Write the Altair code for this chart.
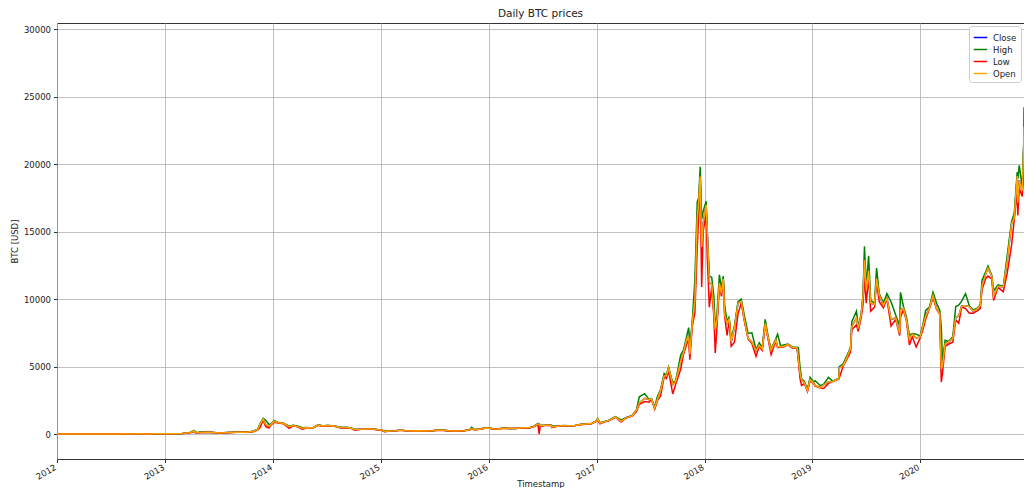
import altair as alt
import pandas as pd

dates = [
    "2012-01-01", "2012-02-01", "2012-03-01", "2012-04-01", "2012-05-01", "2012-06-01", "2012-07-01",
    "2012-08-01", "2012-08-17", "2012-09-01", "2012-10-01", "2012-11-01", "2012-12-01",
    "2013-01-01", "2013-02-01", "2013-03-01", "2013-03-25", "2013-04-09", "2013-04-16", "2013-05-01",
    "2013-06-01", "2013-07-05", "2013-08-01", "2013-09-01", "2013-10-01", "2013-10-25", "2013-11-10",
    "2013-11-18", "2013-11-29", "2013-12-07", "2013-12-18", "2013-12-25",
    "2014-01-05", "2014-01-20", "2014-02-05", "2014-02-25", "2014-03-10", "2014-03-25", "2014-04-10",
    "2014-04-25", "2014-05-15", "2014-06-03", "2014-06-20", "2014-07-05", "2014-07-25", "2014-08-18",
    "2014-09-10", "2014-09-25", "2014-10-05", "2014-10-25", "2014-11-15", "2014-12-01", "2014-12-20",
    "2015-01-05", "2015-01-14", "2015-02-01", "2015-02-20", "2015-03-10", "2015-03-25", "2015-04-15",
    "2015-05-10", "2015-06-01", "2015-06-25", "2015-07-10", "2015-07-30", "2015-08-20", "2015-09-15",
    "2015-10-10", "2015-10-30", "2015-11-04", "2015-11-15", "2015-12-01", "2015-12-20",
    "2016-01-05", "2016-01-16", "2016-02-01", "2016-02-20", "2016-03-10", "2016-04-01", "2016-04-25",
    "2016-05-15", "2016-05-31", "2016-06-16", "2016-06-20", "2016-06-23", "2016-07-10", "2016-07-30",
    "2016-08-02", "2016-08-20", "2016-09-10", "2016-09-30", "2016-10-20", "2016-11-05", "2016-11-25",
    "2016-12-15", "2016-12-30",
    "2017-01-04", "2017-01-12", "2017-01-25", "2017-02-10", "2017-02-25", "2017-03-05", "2017-03-24",
    "2017-04-10", "2017-04-30", "2017-05-15", "2017-05-25", "2017-06-12", "2017-06-27", "2017-07-05",
    "2017-07-16", "2017-07-25", "2017-08-05", "2017-08-17", "2017-08-25", "2017-09-01", "2017-09-15",
    "2017-09-25", "2017-10-12", "2017-10-21", "2017-11-02", "2017-11-08", "2017-11-12", "2017-11-20",
    "2017-11-29", "2017-12-07", "2017-12-12", "2017-12-17", "2017-12-22", "2017-12-27",
    "2018-01-06", "2018-01-10", "2018-01-17", "2018-01-25", "2018-02-01", "2018-02-06", "2018-02-12",
    "2018-02-20", "2018-02-27", "2018-03-05", "2018-03-10", "2018-03-18", "2018-03-25", "2018-04-01",
    "2018-04-12", "2018-04-24", "2018-05-05", "2018-05-15", "2018-05-28", "2018-06-10", "2018-06-24",
    "2018-07-05", "2018-07-15", "2018-07-25", "2018-08-05", "2018-08-14", "2018-08-30", "2018-09-05",
    "2018-09-15", "2018-09-25", "2018-10-10", "2018-10-25", "2018-11-10", "2018-11-14", "2018-11-20",
    "2018-11-25", "2018-12-05", "2018-12-15", "2018-12-24",
    "2019-01-05", "2019-01-10", "2019-01-28", "2019-02-08", "2019-02-24", "2019-03-10", "2019-03-31",
    "2019-04-02", "2019-04-15", "2019-04-23", "2019-05-10", "2019-05-14", "2019-05-30", "2019-06-05",
    "2019-06-15", "2019-06-21", "2019-06-26", "2019-07-02", "2019-07-10", "2019-07-17", "2019-07-30",
    "2019-08-06", "2019-08-15", "2019-08-29", "2019-09-10", "2019-09-24", "2019-10-10", "2019-10-23",
    "2019-10-26", "2019-11-05", "2019-11-15", "2019-11-25", "2019-12-05", "2019-12-18", "2019-12-31",
    "2020-01-10", "2020-01-19", "2020-02-01", "2020-02-13", "2020-02-25", "2020-03-07", "2020-03-12",
    "2020-03-16", "2020-03-25", "2020-04-05", "2020-04-20", "2020-04-30", "2020-05-10", "2020-05-20",
    "2020-06-02", "2020-06-15", "2020-06-28", "2020-07-10", "2020-07-22", "2020-07-28", "2020-08-10",
    "2020-08-17", "2020-08-30", "2020-09-05", "2020-09-20", "2020-10-08", "2020-10-21", "2020-11-05",
    "2020-11-14", "2020-11-24", "2020-11-26", "2020-12-01", "2020-12-11", "2020-12-16", "2020-12-17",
]

open_ = [
    4.9, 5.6, 5.0, 5.0, 5.1, 5.3, 6.7, 9.4, 11.6, 10.2, 12.4, 10.9, 12.6,
    13.4, 20.4, 34.4, 90, 229, 81, 116, 128, 75, 105, 140, 132, 181, 329, 702, 1118, 702, 592, 699,
    948, 831, 791, 542, 629, 561, 421, 459, 451, 661, 591, 629, 596, 481, 479, 411, 331, 349, 381, 379, 326,
    276, 181, 221, 241, 291, 248, 223, 240, 225, 242, 284, 288, 234, 231, 245, 324, 402, 321, 359, 439,
    433, 386, 373, 436, 416, 416, 464, 456, 531, 748, 736, 622, 651, 654, 522, 574, 621, 607, 631, 701, 741,
    777, 958,
    1128, 802, 902, 998, 1178, 1268, 945, 1200, 1345, 1745, 2310, 2660, 2545, 2595, 1930, 2540, 3240,
    4290, 4340, 4890, 3670, 3890, 5390, 5990, 7090, 7160, 5920, 8190, 9890, 15950, 17180, 19080, 13850, 15580,
    16980, 14920, 11230, 11090, 9120, 7720, 8490, 11180, 10410, 11490, 8820, 8190, 8510, 6810, 7890, 9690,
    9840, 8510, 7110, 6810, 6160, 6590, 6310, 8190, 7010, 6210, 6990, 6460, 6490, 6510, 6620, 6410, 6390,
    5660, 4510, 4010, 3790, 3210, 4040,
    3790, 3610, 3440, 3640, 3860, 3890, 4090, 4880, 5090, 5440, 6340, 7930, 8590, 7810, 8840, 10180, 12880,
    10620, 12090, 9720, 9590, 11490, 10310, 9510, 10090, 8520, 8590, 7460, 9230, 9310, 8490, 7010, 7390,
    7110, 7190,
    7990, 8710, 9340, 10240, 9310, 8890, 4880, 5010, 6690, 6810, 7090, 8640, 8760, 9490, 9510, 9440, 9110,
    9240, 9510, 10980, 11890, 12290, 11710, 10210, 10940, 10910, 12780, 15580, 16010, 19120, 17130, 18780,
    18010, 21270, 22780,
]

high = [
    5.0, 6.2, 5.3, 5.1, 5.2, 5.5, 6.9, 9.6, 15.4, 10.4, 12.6, 11.0, 12.7,
    13.5, 21.0, 34.9, 95, 266, 120, 141, 130, 82, 106, 145, 133, 200, 340, 750, 1163, 1020, 720, 720,
    1010, 840, 810, 580, 650, 590, 460, 480, 455, 690, 605, 640, 605, 500, 485, 425, 340, 360, 400, 385, 330,
    280, 225, 228, 247, 300, 252, 224, 245, 230, 245, 295, 291, 240, 232, 247, 335, 495, 335, 375, 445,
    435, 390, 380, 440, 418, 418, 467, 457, 545, 775, 760, 640, 655, 660, 610, 580, 625, 610, 635, 705, 745,
    780, 975,
    1150, 830, 905, 1005, 1190, 1290, 1040, 1210, 1360, 1760, 2760, 2990, 2560, 2620, 2010, 2770, 3300,
    4480, 4370, 4950, 3800, 3930, 5850, 6200, 7300, 7880, 6500, 8280, 11400, 17200, 17500, 19800, 15900, 16500,
    17250, 14900, 11700, 11600, 10250, 7900, 8900, 11800, 10800, 11700, 9500, 8300, 8700, 7000, 8000, 9800,
    9990, 8850, 7450, 7500, 6250, 6750, 6400, 8500, 7100, 6300, 7050, 7400, 6550, 6600, 6670, 6450, 6430,
    6400, 4950, 4100, 3900, 3300, 4200,
    3850, 3950, 3580, 3700, 4200, 3920, 4120, 5000, 5200, 5600, 6400, 8300, 9100, 7900, 8900, 10200, 13900,
    10900, 13200, 9900, 9700, 12300, 10400, 9700, 10400, 9800, 8800, 8050, 10500, 9450, 8700, 7300, 7450,
    7400, 7250,
    8100, 9150, 9400, 10500, 9700, 9150, 7950, 5400, 6950, 6850, 7200, 9450, 9550, 9850, 10400, 9500, 9200,
    9300, 9550, 11400, 12050, 12450, 11750, 10600, 11050, 10950, 13200, 15750, 16350, 19400, 18900, 19900,
    18300, 21500, 24200,
]

low = [
    4.5, 5.5, 4.8, 4.8, 4.9, 5.2, 6.4, 9.0, 8.0, 9.9, 12.2, 10.6, 12.4,
    13.2, 19.8, 33.0, 70, 180, 60, 105, 124, 66, 102, 136, 127, 175, 290, 480, 1020, 570, 450, 660,
    880, 810, 770, 420, 610, 540, 360, 440, 440, 640, 585, 620, 590, 450, 470, 400, 280, 345, 375, 370, 315,
    265, 170, 215, 238, 280, 244, 218, 238, 222, 240, 265, 284, 226, 228, 243, 310, 390, 310, 350, 430,
    425, 360, 370, 428, 410, 414, 460, 453, 520, 700, 5, 550, 640, 645, 480, 570, 615, 600, 627, 695, 730,
    770, 930,
    1020, 750, 880, 975, 1140, 1250, 890, 1190, 1320, 1650, 2200, 2400, 2350, 2570, 1840, 2450, 2830,
    4250, 4120, 4680, 2970, 3680, 4800, 5850, 6700, 7000, 5500, 7950, 9000, 13800, 16300, 18800, 10900, 15000,
    16300, 13100, 9400, 10900, 8800, 6000, 8000, 11000, 10200, 11400, 8700, 7300, 8400, 6500, 6800, 8900,
    9700, 8450, 7050, 6700, 5750, 6500, 6200, 8100, 6900, 5880, 6900, 6400, 6450, 6450, 6600, 6380, 6370,
    5500, 4100, 3600, 3750, 3150, 3950,
    3750, 3550, 3400, 3380, 3750, 3880, 4080, 4150, 5050, 5350, 6100, 7700, 8100, 7600, 8650, 9550, 11700,
    9700, 11600, 9100, 9400, 11300, 9800, 9350, 10000, 8000, 8500, 7300, 8650, 9200, 8400, 6600, 7200,
    6450, 7100,
    7750, 8500, 9300, 10100, 9250, 8850, 3850, 4450, 6500, 6650, 6800, 8450, 8200, 9400, 9300, 8950, 8950,
    9100, 9300, 10700, 11550, 11700, 11500, 9900, 10850, 10550, 11900, 14000, 15900, 18100, 16200, 18200,
    17600, 19300, 21200,
]

close = [
    4.9, 5.6, 5.0, 5.0, 5.1, 5.3, 6.7, 9.4, 11.5, 10.2, 12.4, 10.9, 12.6,
    13.4, 20.4, 34.5, 90, 230, 80, 116, 128, 75, 105, 140, 132, 180, 330, 700, 1120, 700, 590, 700,
    950, 830, 790, 540, 630, 560, 420, 460, 450, 660, 590, 630, 595, 480, 480, 410, 330, 350, 380, 380, 325,
    275, 180, 220, 242, 292, 247, 222, 241, 224, 243, 285, 287, 233, 230, 246, 325, 400, 320, 360, 440,
    432, 385, 372, 437, 415, 417, 465, 455, 533, 750, 735, 620, 650, 655, 520, 575, 620, 608, 630, 702, 740,
    778, 960,
    1130, 800, 900, 1000, 1180, 1270, 940, 1205, 1350, 1750, 2300, 2650, 2550, 2600, 1920, 2550, 3250,
    4300, 4350, 4900, 3650, 3900, 5400, 6000, 7100, 7150, 5900, 8200, 9900, 16000, 17200, 19100, 13800, 15600,
    17000, 14900, 11200, 11100, 9100, 7700, 8500, 11200, 10400, 11500, 8800, 8200, 8500, 6800, 7900, 9700,
    9850, 8500, 7100, 6800, 6150, 6600, 6300, 8200, 7000, 6200, 7000, 6450, 6500, 6500, 6630, 6400, 6400,
    5650, 4500, 4000, 3800, 3200, 4050,
    3800, 3600, 3450, 3650, 3850, 3900, 4100, 4900, 5100, 5450, 6350, 7950, 8600, 7800, 8850, 10200, 12900,
    10600, 12100, 9700, 9600, 11500, 10300, 9500, 10100, 8500, 8600, 7450, 9250, 9300, 8500, 7000, 7400,
    7100, 7200,
    8000, 8700, 9350, 10250, 9300, 8900, 4850, 5000, 6700, 6800, 7100, 8650, 8750, 9500, 9500, 9450, 9100,
    9250, 9500, 11000, 11900, 12300, 11700, 10200, 10950, 10900, 12800, 15600, 16000, 19150, 17100, 18800,
    18000, 21300, 22800,
]

series_names = ["Close", "High", "Low", "Open"]
series_colors = ["#0000ff", "#008000", "#ff0000", "#ffa500"]
year_ticks = list(range(2012, 2021))
y_ticks = [0, 5000, 10000, 15000, 20000, 25000, 30000]

wide = pd.DataFrame({
    "Timestamp": pd.to_datetime(dates),
    "Close": close,
    "High": high,
    "Low": low,
    "Open": open_,
})
df = wide.melt(id_vars="Timestamp", var_name="series", value_name="price")

FONT = "DejaVu Sans"

chart = (
    alt.Chart(df)
    .mark_line(strokeWidth=1.5)
    .encode(
        x=alt.X(
            "Timestamp:T",
            title="Timestamp",
            scale=alt.Scale(
                domain=[
                    alt.DateTime(year=2012, month=1, date=1),
                    alt.DateTime(year=2020, month=12, date=17),
                ],
                nice=False,
            ),
            axis=alt.Axis(
                values=[alt.DateTime(year=y, month=1, date=1) for y in year_ticks],
                format="%Y",
                labelAngle=-30,
                labelAlign="right",
                labelBaseline="top",
                labelPadding=0,
                labelOffset=-4,
                grid=True,
                titleY=27.5,
                titleBaseline="alphabetic",
            ),
        ),
        y=alt.Y(
            "price:Q",
            title="BTC [USD]",
            scale=alt.Scale(domain=[-1850, 30450], nice=False, zero=False),
            axis=alt.Axis(values=y_ticks, format="d", grid=True, titlePadding=4, labelPadding=3),
        ),
        color=alt.Color(
            "series:N",
            scale=alt.Scale(domain=series_names, range=series_colors),
            legend=alt.Legend(
                title=None,
                orient="top-right",
                offset=3,
                symbolType="stroke",
                symbolSize=180,
                symbolStrokeWidth=1.5,
                labelFontSize=8.5,
                labelFont=FONT,
                labelColor="#222",
                padding=4,
                fillColor="white",
                strokeColor="#cccccc",
                cornerRadius=3,
                rowPadding=0,
                labelOffset=5,
            ),
        ),
        order=alt.Order("Timestamp:T"),
    )
    .properties(
        width=967,
        height=436,
        title=alt.TitleParams("Daily BTC prices", fontSize=10.5, font=FONT, fontWeight="normal",
                              color="#222", offset=4),
        autosize=alt.AutoSizeParams(type="none"),
        padding={"left": 49, "top": 15, "right": 0, "bottom": 29},
    )
    .configure_view(stroke="#333", strokeWidth=1)
    .configure_axis(
        labelFont=FONT,
        titleFont=FONT,
        labelFontSize=8.5,
        titleFontSize=8.5,
        titleFontWeight="normal",
        labelColor="#222",
        titleColor="#222",
        gridColor="#b0b0b0",
        gridWidth=0.8,
        tickColor="#333",
        tickSize=3.5,
        domain=False,
    )
)

chart.save("out.html", embed_options={"renderer": "svg", "actions": False})
